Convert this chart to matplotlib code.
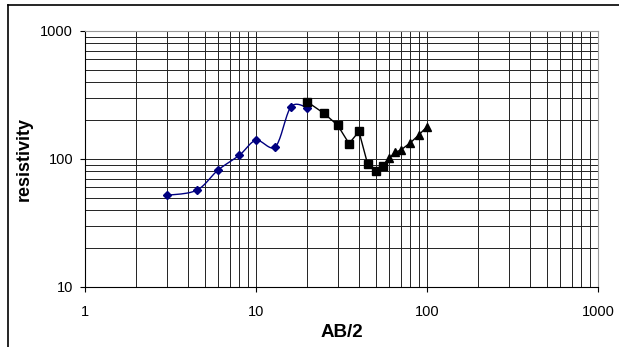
import numpy as np
import matplotlib
matplotlib.use("Agg")
import matplotlib.pyplot as plt
from matplotlib.ticker import LogLocator, FixedLocator, NullFormatter
from matplotlib.lines import Line2D

plt.rcParams['font.family'] = ['Liberation Sans', 'DejaVu Sans']

# blue series (diamonds, smoothed line)
ab_blue = [3, 4.5, 6, 8, 10, 13, 16, 20]
rho_blue = [52, 57, 82, 107, 140, 125, 255, 252]

# black series (squares)
ab_sq = [20, 25, 30, 35, 40, 45, 50, 55]
rho_sq = [279, 227, 184, 132, 164, 91, 80, 88]

# black series (triangles)
ab_tri = [55, 60, 65, 70, 80, 90, 100]
rho_tri = [88, 101, 113, 117, 134, 155, 179]


def smooth(x, y, n=20):
    # catmull-rom in log space, like Excel's smoothed line
    p = np.column_stack([np.log10(x), np.log10(y)])
    p = np.vstack([p[0], p, p[-1]])
    out = []
    for i in range(1, len(p) - 2):
        p0, p1, p2, p3 = p[i - 1], p[i], p[i + 1], p[i + 2]
        t = np.linspace(0, 1, n)[:, None]
        c = 0.5 * ((2 * p1) + (-p0 + p2) * t + (2 * p0 - 5 * p1 + 4 * p2 - p3) * t ** 2
                   + (-p0 + 3 * p1 - 3 * p2 + p3) * t ** 3)
        out.append(c)
    out = np.vstack(out)
    return 10 ** out[:, 0], 10 ** out[:, 1]


fig = plt.figure(figsize=(6.19, 3.47), dpi=100)
ax = fig.add_axes([85 / 619, 1 - 287 / 347, 513 / 619, 256 / 347])

ax.set_xscale('log')
ax.set_yscale('log')
ax.set_xlim(1, 1000)
ax.set_ylim(10, 1000)

sx, sy = smooth(ab_blue, rho_blue)
ax.plot(sx, sy, color='#000080', lw=1.0, zorder=3)
ax.plot(ab_blue, rho_blue, ls='none', marker='D', ms=4, color='#000080', zorder=4)

ax.plot(ab_sq, rho_sq, color='black', lw=1.0, marker='s', ms=6, zorder=5)
ax.plot(ab_tri, rho_tri, color='black', lw=1.0, marker='^', ms=6, zorder=5)

ax.xaxis.set_minor_locator(LogLocator(base=10, subs=np.arange(2, 10)))
ax.yaxis.set_minor_locator(LogLocator(base=10, subs=np.arange(2, 10)))
ax.xaxis.set_minor_formatter(NullFormatter())
ax.yaxis.set_minor_formatter(NullFormatter())
ax.xaxis.set_major_locator(FixedLocator([1, 10, 100, 1000]))
ax.yaxis.set_major_locator(FixedLocator([10, 100, 1000]))
ax.set_xticklabels(['1', '10', '100', '1000'])
ax.set_yticklabels(['10', '100', '1000'])

ax.grid(True, which='both', color='#222222', lw=0.7)
ax.tick_params(which='minor', length=0)
ax.tick_params(which='major', length=3.6, width=0.8, labelsize=10.5, direction='out',
               colors='black')
ax.tick_params(axis='x', pad=9)
ax.tick_params(axis='y', pad=5)
ax.set_axisbelow(True)

for s in ['top', 'right']:
    ax.spines[s].set_color('#999999')

ax.set_xlabel('AB/2', fontsize=13.5, fontweight='bold', labelpad=4)
ax.set_ylabel('resistivity', fontsize=13, fontweight='bold', labelpad=5)

# chart frame (top and left edges visible)
fig.add_artist(Line2D([8 / 619, 1], [1 - 5 / 347, 1 - 5 / 347], transform=fig.transFigure,
                      color='black', lw=1.2))
fig.add_artist(Line2D([8 / 619, 8 / 619], [0, 1 - 5 / 347], transform=fig.transFigure,
                      color='black', lw=1.2))

fig.savefig('out.png', dpi=100)
